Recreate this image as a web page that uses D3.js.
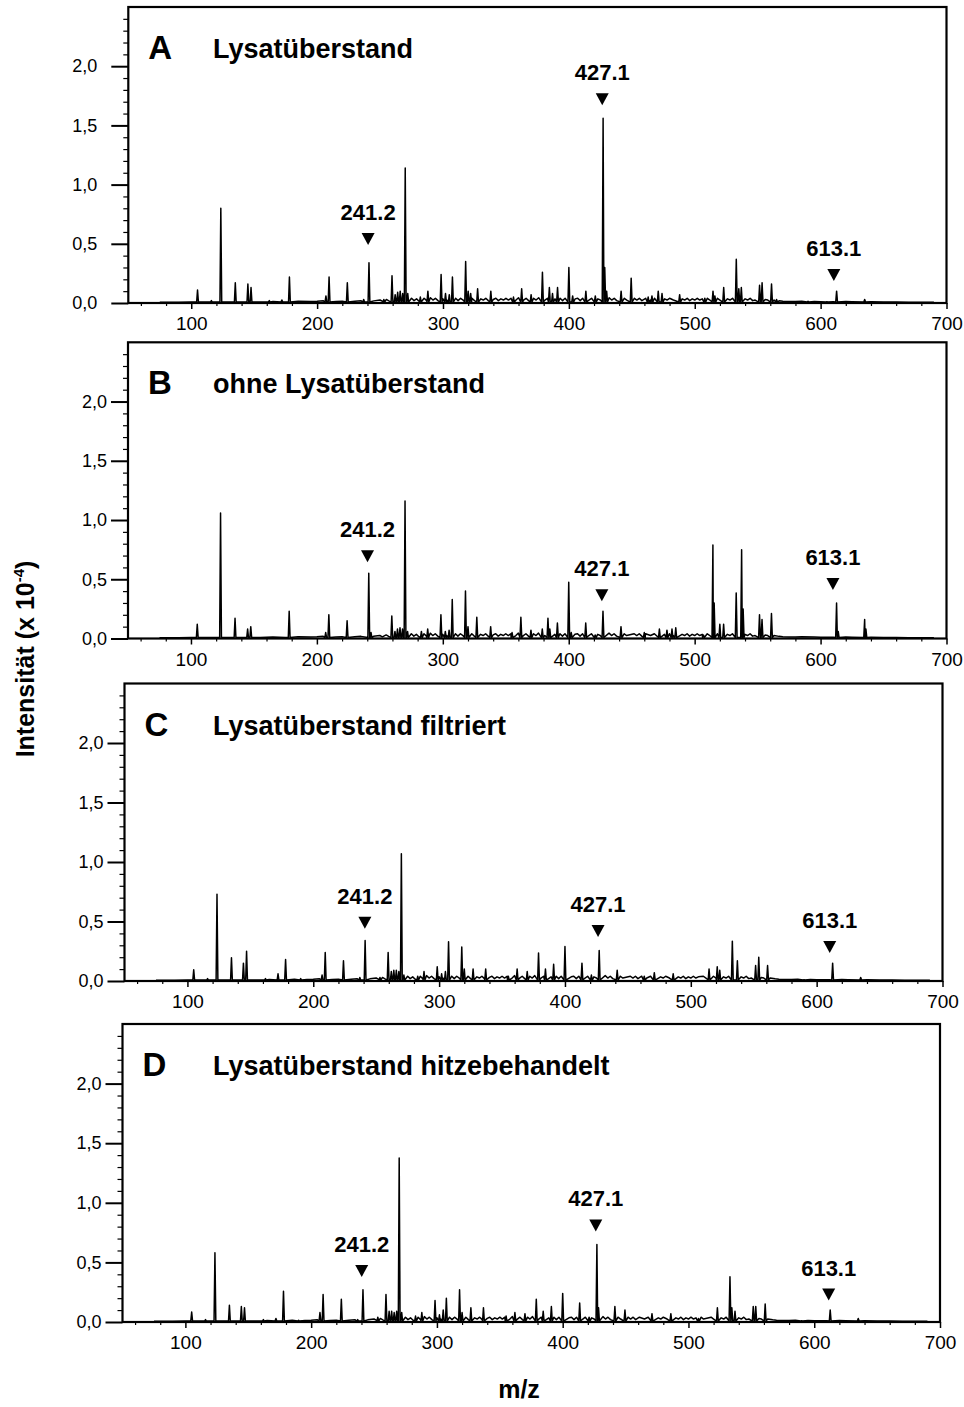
<!DOCTYPE html>
<html><head><meta charset="utf-8">
<script src="https://cdn.jsdelivr.net/npm/d3@7"></script>
<style>
body{margin:0;background:#fff}
svg{display:block}
text{font-family:"Liberation Sans",Arial,Helvetica,sans-serif;fill:#000}
</style>
</head><body>
<svg id="chart" width="964" height="1407"></svg>
<script>
// ---------------- DATA ----------------
const panelLetters = ["A", "B", "C", "D"];
const panelTitles = ["Lysatüberstand", "ohne Lysatüberstand", "Lysatüberstand filtriert", "Lysatüberstand hitzebehandelt"];
const markerLabels = ["241.2", "427.1", "613.1"];
const markerMz = [[240.5, 426.5, 610.5], [240.2, 426.3, 609.8], [241.0, 426.3, 610.4], [240.2, 426.3, 611.5]];
const markerLevel = [[0.49, 1.67, 0.185], [0.644, 0.315, 0.41], [0.44, 0.37, 0.235], [0.378, 0.76, 0.18]];
const xTicks = [100, 200, 300, 400, 500, 600, 700];
const yTicks = [0, 0.5, 1.0, 1.5, 2.0];
const yTickLabels = ["0,0", "0,5", "1,0", "1,5", "2,0"];
const xLabel = "m/z";
const yLabel = "Intensität (x 10";
const yLabelExp = "-4";

// peaks [m/z, intensity x 10^-4]
const peaksA = [[105,0.11],[116,0.02],[123.5,0.80],[135,0.17],[145,0.16],[147.5,0.13],[162,0.02],[172,0.025],[178,0.22],[207,0.06],[209.5,0.22],[224,0.17],[237,0.03],[241.2,0.34],[253,0.03],[259.5,0.23],[262,0.07],[264,0.09],[266,0.1],[268,0.08],[270,1.14],[272,0.08],[282,0.05],[288,0.1],[298.5,0.24],[302,0.08],[305,0.07],[307.5,0.22],[318,0.35],[320,0.1],[322,0.08],[327.5,0.12],[338,0.1],[356,0.05],[362.5,0.12],[370,0.07],[379,0.26],[384.5,0.13],[387,0.08],[391,0.13],[400,0.30],[403,0.06],[413.5,0.1],[421,0.06],[427.2,1.56],[428.5,0.3],[430,0.1],[441.5,0.1],[449.5,0.21],[463,0.05],[466,0.06],[471,0.1],[474,0.08],[488,0.07],[508,0.04],[514.5,0.1],[516,0.06],[523,0.13],[533,0.37],[535,0.12],[537,0.13],[551.5,0.15],[553.5,0.17],[561,0.16],[565,0.03],[590,0.015],[605,0.01],[612.7,0.1],[635,0.03]];
const peaksB = [[105,0.12],[123.5,1.06],[135,0.17],[145,0.08],[147.5,0.1],[178,0.23],[207,0.05],[209.5,0.2],[224,0.15],[241.2,0.55],[243,0.05],[259.5,0.19],[262,0.06],[264,0.08],[266,0.09],[268,0.08],[270,1.16],[272,0.06],[283,0.06],[288,0.08],[298.5,0.2],[302,0.06],[305,0.07],[307.5,0.33],[318,0.4],[320,0.1],[327,0.18],[338,0.1],[355,0.05],[362,0.18],[370,0.07],[379,0.08],[383.5,0.17],[385,0.08],[391,0.13],[400,0.475],[402,0.05],[413.5,0.13],[421,0.03],[427.2,0.23],[441.5,0.1],[460,0.05],[472,0.08],[478,0.07],[482,0.08],[485,0.09],[507,0.03],[514.5,0.79],[515.5,0.3],[520,0.12],[523,0.12],[533,0.385],[537.3,0.75],[538.5,0.25],[551.5,0.2],[553.5,0.16],[561,0.21],[612.7,0.3],[614,0.06],[635,0.16],[636,0.08]];
const peaksC = [[105,0.095],[116,0.02],[123.5,0.73],[135,0.195],[144.5,0.15],[147,0.25],[162,0.02],[172,0.06],[178,0.18],[190,0.02],[207,0.05],[209.5,0.24],[224,0.17],[237,0.03],[241.2,0.34],[253,0.03],[259.5,0.24],[262,0.08],[264,0.09],[266,0.09],[268,0.08],[270,1.07],[272,0.05],[283,0.04],[288,0.08],[298.5,0.12],[302,0.06],[305,0.08],[307.5,0.33],[318,0.285],[320,0.1],[327,0.1],[337,0.1],[355,0.04],[362,0.1],[370,0.08],[379,0.235],[384.5,0.1],[391,0.14],[400,0.29],[413.5,0.15],[421,0.05],[427.2,0.257],[441.5,0.09],[463,0.04],[471,0.07],[486,0.06],[514.5,0.1],[521,0.12],[523,0.09],[533,0.335],[537,0.17],[551.5,0.13],[554,0.2],[561,0.13],[590,0.01],[612.7,0.15],[635,0.03]];
const peaksD = [[105,0.084],[116,0.02],[123.5,0.58],[135,0.14],[144.5,0.13],[147,0.12],[162,0.02],[172,0.03],[178,0.257],[190,0.015],[207,0.08],[209.5,0.23],[224,0.19],[237,0.02],[241.2,0.27],[253,0.04],[259.5,0.23],[262,0.09],[264,0.09],[266,0.08],[268,0.09],[270,1.375],[272,0.08],[283,0.05],[288,0.08],[298.5,0.18],[302,0.06],[305,0.1],[307.5,0.2],[318,0.27],[320,0.08],[327,0.12],[337,0.12],[355,0.05],[362,0.08],[370,0.07],[379,0.19],[384.5,0.09],[391,0.13],[400,0.24],[413.5,0.16],[421,0.04],[427.2,0.65],[428.5,0.12],[441.5,0.13],[449.5,0.1],[471,0.07],[486,0.07],[508,0.03],[523,0.12],[533,0.38],[534.5,0.12],[537,0.09],[551.5,0.13],[553.5,0.13],[561,0.15],[590,0.01],[612.7,0.1],[635,0.03]];

// chemical background level read along the baseline [m/z, intensity]
const background = [[75,0.007],[90,0.007],[100,0.008],[110,0.009],[125,0.008],[140,0.009],[155,0.009],[165,0.012],[175,0.009],[185,0.014],[195,0.012],[200,0.014],[205,0.018],[215,0.012],[220,0.015],[230,0.014],[235,0.018],[245,0.018],[250,0.025],[252,0.014],[255,0.03],[257,0.018],[275,0.04],[277,0.02],[279,0.035],[281,0.015],[285,0.04],[287,0.02],[290,0.045],[292,0.025],[294,0.04],[296,0.02],[300,0.035],[303,0.025],[310,0.04],[312,0.02],[314,0.04],[316,0.025],[323,0.04],[325,0.02],[330,0.035],[332,0.025],[334,0.04],[336,0.02],[340,0.03],[342,0.04],[344,0.02],[346,0.035],[348,0.025],[350,0.04],[352,0.025],[354,0.04],[358,0.025],[360,0.045],[364,0.025],[366,0.04],[368,0.02],[372,0.04],[374,0.025],[376,0.045],[381,0.025],[383,0.04],[389,0.035],[393,0.04],[395,0.02],[397,0.04],[405,0.035],[407,0.04],[409,0.02],[411,0.04],[416,0.025],[418,0.04],[423,0.035],[425,0.025],[432,0.045],[434,0.025],[436,0.04],[438,0.02],[444,0.04],[446,0.025],[452,0.04],[454,0.025],[456,0.04],[458,0.02],[461,0.04],[465,0.025],[468,0.04],[476,0.035],[478,0.025],[480,0.04],[483,0.025],[490,0.035],[492,0.025],[494,0.04],[496,0.02],[498,0.035],[500,0.025],[502,0.04],[504,0.025],[506,0.035],[510,0.04],[512,0.025],[518,0.04],[520,0.025],[526,0.035],[528,0.025],[530,0.04],[540,0.035],[542,0.025],[544,0.04],[546,0.02],[548,0.025],[556,0.03],[558,0.025],[563,0.025],[567,0.018],[570,0.015],[575,0.012],[580,0.012],[585,0.014],[595,0.012],[600,0.01],[610,0.01],[620,0.012],[625,0.01],[640,0.01],[650,0.008],[660,0.008],[670,0.007],[680,0.007],[690,0.007]];

const allPeaks = [peaksA, peaksB, peaksC, peaksD];

// ---------------- LAYOUT ----------------
const frames = [
  {l:128.3, t:7,     r:946.5, b:303,   pad:31},
  {l:128,   t:342.3, r:946.5, b:638.5, pad:21},
  {l:124.5, t:683.5, r:942.5, b:981,   pad:21},
  {l:122.5, t:1024,  r:940,   b:1322,  pad:21}
];
const FONT = '"Liberation Sans",Arial,Helvetica,sans-serif';
const svg = d3.select("#chart");

function buildTrace(peaks){
  const pts = [];
  background.forEach(([m,v]) => { if (!peaks.some(p => Math.abs(p[0]-m) < 1.0)) pts.push([m,v]); });
  peaks.forEach(([m,h]) => { pts.push([m-0.7,0.008],[m,h],[m+0.7,0.008]); });
  pts.sort((a,b) => a[0]-b[0]);
  return pts;
}

frames.forEach((f, i) => {
  const x = d3.scaleLinear().domain([50, 700]).range([f.l, f.r]);
  const y = d3.scaleLinear().domain([0, 2.5]).range([f.b, f.t]);
  const g = svg.append("g");

  const cid = "clip" + i;
  svg.append("clipPath").attr("id", cid).append("rect")
    .attr("x", f.l).attr("y", f.t).attr("width", f.r - f.l).attr("height", f.b - f.t);

  // minor y ticks
  const minorY = d3.range(1, 25).map(k => k / 10).filter(v => Math.abs(v*2 - Math.round(v*2)) > 1e-6);
  g.append("g").attr("transform", `translate(${f.l},0)`)
    .call(d3.axisLeft(y).tickValues(minorY).tickSize(5).tickFormat(""))
    .call(s => s.select(".domain").remove())
    .call(s => s.selectAll("line").attr("stroke", "#000").attr("stroke-width", 1.2));

  // major y ticks
  g.append("g").attr("transform", `translate(${f.l},0)`)
    .call(d3.axisLeft(y).tickValues(yTicks).tickSize(17).tickPadding(f.pad - 17)
      .tickFormat((d, k) => yTickLabels[k]))
    .call(s => s.select(".domain").remove())
    .call(s => s.selectAll("line").attr("stroke", "#000").attr("stroke-width", 2))
    .call(s => s.selectAll("text").attr("font-family", FONT).attr("font-size", 18).attr("fill", "#000"));

  // minor x ticks
  const minorX = d3.range(60, 700, 20).filter(v => v % 100 !== 0);
  g.append("g").attr("transform", `translate(0,${f.b})`)
    .call(d3.axisBottom(x).tickValues(minorX).tickSize(3).tickFormat(""))
    .call(s => s.select(".domain").remove())
    .call(s => s.selectAll("line").attr("stroke", "#000").attr("stroke-width", 1.2));

  // major x ticks
  g.append("g").attr("transform", `translate(0,${f.b})`)
    .call(d3.axisBottom(x).tickValues(xTicks).tickSize(6).tickPadding(8).tickFormat(d3.format("d")))
    .call(s => s.select(".domain").remove())
    .call(s => s.selectAll("line").attr("stroke", "#000").attr("stroke-width", 1.5))
    .call(s => s.selectAll("text").attr("font-family", FONT).attr("font-size", 19).attr("fill", "#000"));

  // spectrum
  const line = d3.line().x(d => x(d[0])).y(d => y(d[1]));
  g.append("path").datum(buildTrace(allPeaks[i]))
    .attr("clip-path", `url(#${cid})`)
    .attr("d", line).attr("fill", "none").attr("stroke", "#000")
    .attr("stroke-width", 1.5).attr("stroke-linejoin", "round");

  // frame
  g.append("rect").attr("x", f.l).attr("y", f.t).attr("width", f.r - f.l).attr("height", f.b - f.t)
    .attr("fill", "none").attr("stroke", "#000").attr("stroke-width", 2.2);

  // panel letter and title
  g.append("text").attr("x", f.l + 20).attr("y", f.t + 52)
    .attr("font-size", 33).attr("font-weight", "bold").text(panelLetters[i]);
  g.append("text").attr("x", 213).attr("y", f.t + 51)
    .attr("font-size", 27).attr("font-weight", "bold").text(panelTitles[i]);

  // markers
  markerLabels.forEach((lab, k) => {
    const cx = x(markerMz[i][k]);
    const by = y(markerLevel[i][k]);
    g.append("path")
      .attr("d", `M${cx-6.5},${by-12}L${cx+6.5},${by-12}L${cx},${by}Z`)
      .attr("fill", "#000");
    g.append("text").attr("x", cx).attr("y", by - 12 - 13)
      .attr("text-anchor", "middle").attr("font-size", 22).attr("font-weight", "bold").text(lab);
  });
});

// axis titles
const yt = svg.append("text").attr("transform", "translate(34,659) rotate(-90)")
  .attr("text-anchor", "middle").attr("font-size", 25).attr("font-weight", "bold");
yt.append("tspan").text(yLabel);
yt.append("tspan").attr("dy", -10).attr("font-size", 15).text(yLabelExp);
yt.append("tspan").attr("dy", 10).text(")");

svg.append("text").attr("x", 519).attr("y", 1398).attr("text-anchor", "middle")
  .attr("font-size", 25).attr("font-weight", "bold").text(xLabel);
</script>
</body></html>
